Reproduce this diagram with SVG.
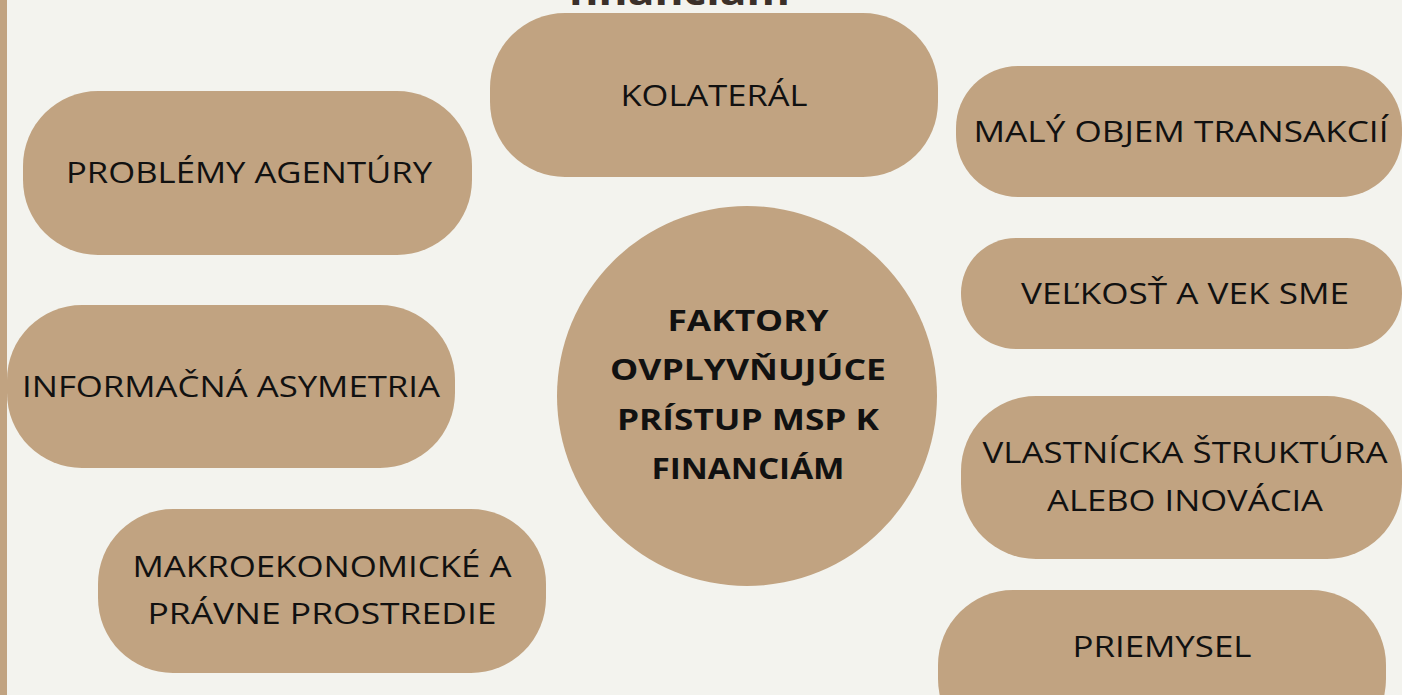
<svg xmlns="http://www.w3.org/2000/svg" width="1402" height="695" viewBox="0 0 1402 695">
<style>
.n{fill:#c1a381}
.t{font-family:"Open Sans","Liberation Sans",sans-serif;font-size:30px;fill:#111;text-anchor:middle}
.b{font-family:"Open Sans","Liberation Sans",sans-serif;font-size:29px;font-weight:bold;fill:#111;text-anchor:middle}
</style>
<rect width="1402" height="695" fill="#f3f3ee"/>
<rect x="0" y="0" width="7" height="695" fill="#c1a381"/>
<text x="679" y="5" font-family="Open Sans, Liberation Sans, sans-serif" font-size="38" font-weight="bold" fill="#3b3029" text-anchor="middle" textLength="222" lengthAdjust="spacingAndGlyphs">financiám</text>
<g id="connectors"/>
<g id="kolateral"><rect class="n" x="490" y="13" width="448" height="164" rx="75" ry="75"/><text class="t" x="714" y="106" textLength="187" lengthAdjust="spacingAndGlyphs">KOLATERÁL</text></g>
<g id="agentury"><rect class="n" x="23" y="91" width="449" height="164" rx="75" ry="75"/><text class="t" x="249" y="183" textLength="366" lengthAdjust="spacingAndGlyphs">PROBLÉMY AGENTÚRY</text></g>
<g id="transakcie"><rect class="n" x="956" y="66" width="446" height="131" rx="62" ry="62"/><text class="t" x="1181" y="142" textLength="415" lengthAdjust="spacingAndGlyphs">MALÝ OBJEM TRANSAKCIÍ</text></g>
<g id="velkost"><rect class="n" x="961" y="238" width="441" height="111" rx="55" ry="55"/><text class="t" x="1185" y="304" textLength="328" lengthAdjust="spacingAndGlyphs">VEĽKOSŤ A VEK SME</text></g>
<g id="asymetria"><rect class="n" x="7" y="305" width="448" height="163" rx="75" ry="75"/><text class="t" x="231" y="397" textLength="418" lengthAdjust="spacingAndGlyphs">INFORMAČNÁ ASYMETRIA</text></g>
<g id="vlastnicka"><rect class="n" x="961" y="396" width="441" height="163" rx="75" ry="75"/><text class="t" x="1185" y="463" textLength="405" lengthAdjust="spacingAndGlyphs">VLASTNÍCKA ŠTRUKTÚRA</text><text class="t" x="1185" y="511" textLength="276" lengthAdjust="spacingAndGlyphs">ALEBO INOVÁCIA</text></g>
<g id="makro"><rect class="n" x="98" y="509" width="448" height="164" rx="75" ry="75"/><text class="t" x="322" y="577" textLength="379" lengthAdjust="spacingAndGlyphs">MAKROEKONOMICKÉ A</text><text class="t" x="322" y="624" textLength="349" lengthAdjust="spacingAndGlyphs">PRÁVNE PROSTREDIE</text></g>
<g id="priemysel"><rect class="n" x="938" y="590" width="448" height="164" rx="75" ry="75"/><text class="t" x="1162" y="657" textLength="179" lengthAdjust="spacingAndGlyphs">PRIEMYSEL</text></g>
<g id="center"><circle class="n" cx="747" cy="396" r="190"/>
<text class="b" x="748" y="331" textLength="161" lengthAdjust="spacingAndGlyphs">FAKTORY</text>
<text class="b" x="748" y="380" textLength="276" lengthAdjust="spacingAndGlyphs">OVPLYVŇUJÚCE</text>
<text class="b" x="748" y="430" textLength="262" lengthAdjust="spacingAndGlyphs">PRÍSTUP MSP K</text>
<text class="b" x="748" y="479" textLength="193" lengthAdjust="spacingAndGlyphs">FINANCIÁM</text></g>
</svg>
